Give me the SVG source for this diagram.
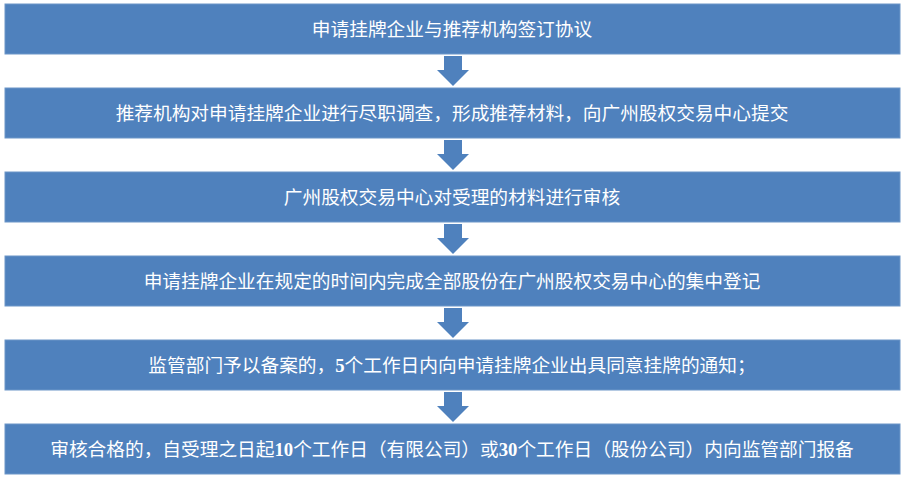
<svg xmlns="http://www.w3.org/2000/svg" width="905" height="477" viewBox="0 0 905 477">
<style>
.b{fill:#4F81BD;stroke:#6C96C8;stroke-width:1}
.t{fill:#fff;font-family:"Noto Sans CJK SC",sans-serif;font-size:18.7px;text-anchor:middle}
.n{font-family:"Liberation Serif",serif;font-weight:bold}
.a{fill:#4F81BD}
</style>
<rect width="905" height="477" fill="#fff"/>
<g id="n1"><rect class="b" x="5" y="4" width="895" height="50"/><text class="t" x="452" y="35.5">申请挂牌企业与推荐机构签订协议</text></g>
<g id="n2"><rect class="b" x="5" y="88" width="895" height="50"/><text class="t" x="452" y="119.5">推荐机构对申请挂牌企业进行尽职调查，形成推荐材料，向广州股权交易中心提交</text></g>
<g id="n3"><rect class="b" x="5" y="172" width="895" height="50"/><text class="t" x="452" y="203.5">广州股权交易中心对受理的材料进行审核</text></g>
<g id="n4"><rect class="b" x="5" y="256" width="895" height="50"/><text class="t" x="452" y="287.5">申请挂牌企业在规定的时间内完成全部股份在广州股权交易中心的集中登记</text></g>
<g id="n5"><rect class="b" x="5" y="340" width="895" height="50"/><text class="t" x="452" y="371.5">监管部门予以备案的，<tspan class="n">5</tspan>个工作日内向申请挂牌企业出具同意挂牌的通知；</text></g>
<g id="n6"><rect class="b" x="5" y="424" width="895" height="50"/><text class="t" x="452" y="455.5">审核合格的，自受理之日起<tspan class="n">10</tspan>个工作日（有限公司）或<tspan class="n">30</tspan>个工作日（股份公司）内向监管部门报备</text></g>
<g id="connectors">
<polygon class="a" points="444,56 462,56 462,70 469,70 453,86 437,70 444,70"/>
<polygon class="a" points="444,140 462,140 462,154 469,154 453,170 437,154 444,154"/>
<polygon class="a" points="444,224 462,224 462,238 469,238 453,254 437,238 444,238"/>
<polygon class="a" points="444,308 462,308 462,322 469,322 453,338 437,322 444,322"/>
<polygon class="a" points="444,392 462,392 462,406 469,406 453,422 437,406 444,406"/>
</g>
</svg>
